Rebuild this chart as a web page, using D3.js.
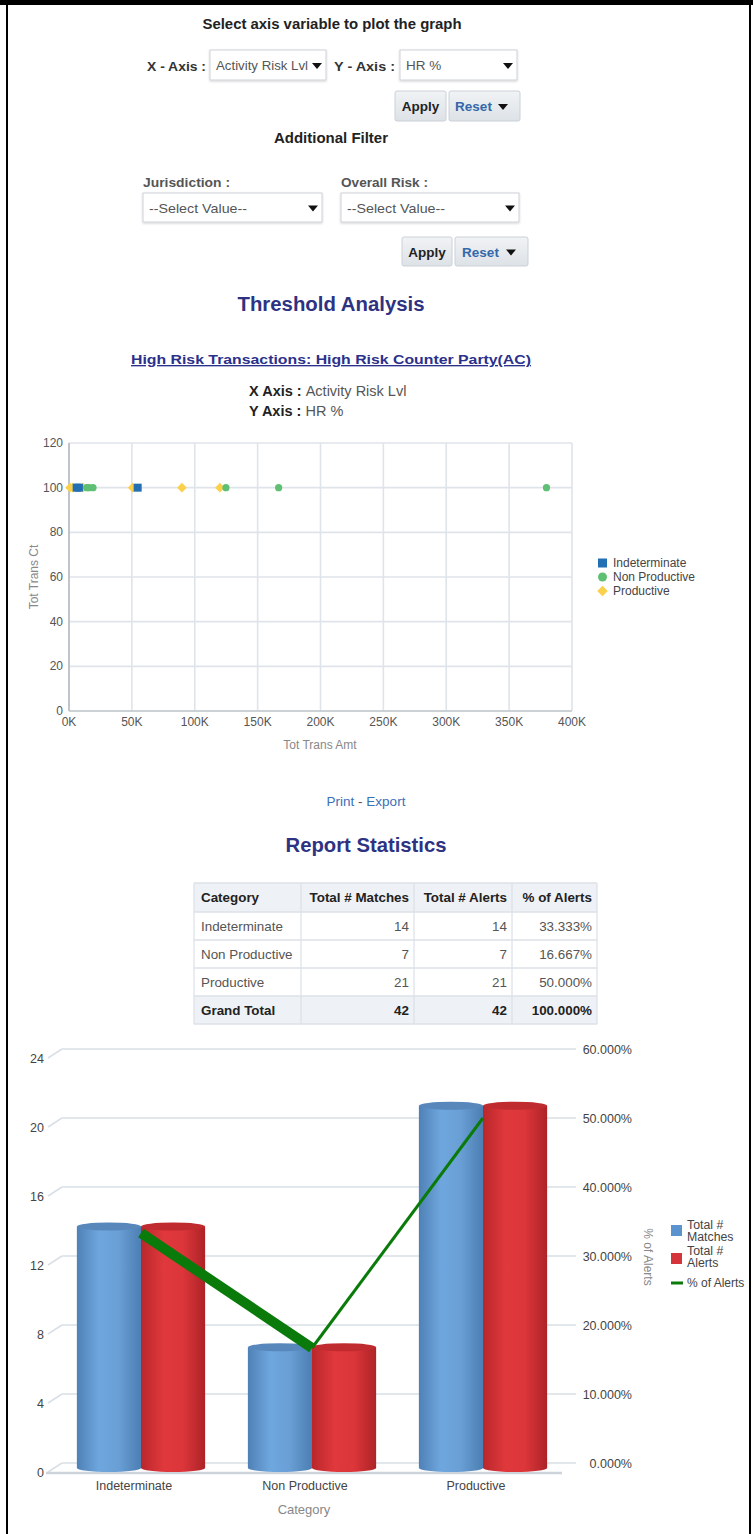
<!DOCTYPE html>
<html><head><meta charset="utf-8">
<script src="https://cdn.jsdelivr.net/npm/d3@7"></script>
<style>
html,body{margin:0;padding:0;background:#fff;}
svg{display:block;font-family:"Liberation Sans",Arial,sans-serif;}
</style></head><body>
<svg id="c" width="753" height="1534"></svg>
<script>
// ---------------- DATA ----------------
const scatterSeries = ["Indeterminate", "Non Productive", "Productive"];
const indeterminateAmtK = [6.1, 7.9, 54.6];
const indeterminateHR = [100, 100, 100];
const nonProductiveAmtK = [14.1, 15.9, 19.1, 124.8, 166.7, 379.7];
const nonProductiveHR = [100, 100, 100, 100, 100, 100];
const productiveAmtK = [0.8, 2.9, 11.1, 50.6, 89.8, 120.0];
const productiveHR = [100, 100, 100, 100, 100, 100];
const scatterXTicks = [0, 50, 100, 150, 200, 250, 300, 350, 400];
const scatterYTicks = [0, 20, 40, 60, 80, 100, 120];

const categories = ["Indeterminate", "Non Productive", "Productive"];
const totalMatches = [14, 7, 21];
const totalAlerts = [14, 7, 21];
const pctAlerts = [33.333, 16.667, 50.000];
const barYTicks = [0, 4, 8, 12, 16, 20, 24];
const pctTicks = [0, 10, 20, 30, 40, 50, 60];
const tableHeaders = ["Category", "Total # Matches", "Total # Alerts", "% of Alerts"];
const barSeries = ["Total # Matches", "Total # Alerts"];

// ---------------- HELPERS ----------------
const svg = d3.select("#c");
const defs = svg.append("defs");
function txt(x, y, s, o = {}) {
  const t = svg.append("text").attr("x", x).attr("y", y).text(s)
    .attr("font-size", o.size || 12)
    .attr("font-weight", o.bold ? "bold" : "normal")
    .attr("fill", o.fill || "#333")
    .attr("text-anchor", o.anchor || "start");
  if (o.decor) t.attr("text-decoration", o.decor);
  if (o.len) t.attr("textLength", o.len).attr("lengthAdjust", "spacingAndGlyphs");
  return t;
}
// frame
svg.append("rect").attr("x", 0).attr("y", 0).attr("width", 753).attr("height", 5).attr("fill", "#000");
svg.append("rect").attr("x", 6).attr("y", 0).attr("width", 2).attr("height", 1534).attr("fill", "#000");
svg.append("rect").attr("x", 749).attr("y", 0).attr("width", 2).attr("height", 1534).attr("fill", "#000");

const bg = defs.append("linearGradient").attr("id", "btn").attr("x1", 0).attr("y1", 0).attr("x2", 0).attr("y2", 1);
bg.append("stop").attr("offset", "0%").attr("stop-color", "#f1f3f5");
bg.append("stop").attr("offset", "100%").attr("stop-color", "#dde2e7");
const sh = defs.append("filter").attr("id", "sh").attr("x", "-10%").attr("y", "-10%").attr("width", "120%").attr("height", "130%");
sh.append("feDropShadow").attr("dx", 0).attr("dy", 1).attr("stdDeviation", 1).attr("flood-color", "#000").attr("flood-opacity", 0.18);

function arrowAt(ax, ay) {
  svg.append("path").attr("d", `M${ax - 5},${ay - 3}L${ax + 5},${ay - 3}L${ax},${ay + 3}Z`).attr("fill", "#111");
}
function selectBox(x, y, w, h, label, len) {
  svg.append("rect").attr("x", x).attr("y", y).attr("width", w).attr("height", h)
    .attr("fill", "#fff").attr("stroke", "#cdd2d8").attr("filter", "url(#sh)");
  txt(x + 6, y + h / 2 + 5, label, { size: 13.5, fill: "#555", len: len });
  arrowAt(x + w - 9, y + h / 2 + 1);
}
function button(x, y, w, h, label, color, arrow) {
  svg.append("rect").attr("x", x).attr("y", y).attr("width", w).attr("height", h).attr("rx", 2)
    .attr("fill", "url(#btn)").attr("stroke", "#cbd1d8");
  const cx = x + w / 2 - (arrow ? 11 : 0);
  txt(cx, y + h / 2 + 5, label, { size: 13.5, bold: true, fill: color, anchor: "middle" });
  if (arrow) arrowAt(x + w - 17, y + h / 2 + 1);
}

// ---------------- FORM ----------------
txt(332, 29, "Select axis variable to plot the graph", { size: 14.5, bold: true, fill: "#222", anchor: "middle", len: 259 });
txt(147, 71, "X - Axis :", { size: 13.5, bold: true, fill: "#333", len: 59 });
selectBox(210, 50, 116, 30, "Activity Risk Lvl", 92);
txt(334, 71, "Y - Axis :", { size: 13.5, bold: true, fill: "#333", len: 61 });
selectBox(400, 50, 117, 30, "HR %");
button(395, 91, 51, 30, "Apply", "#222", false);
button(449, 91, 71, 30, "Reset", "#3468aa", true);

txt(331, 143, "Additional Filter", { size: 14.5, bold: true, fill: "#222", anchor: "middle", len: 114 });
txt(143, 187, "Jurisdiction :", { size: 13.5, bold: true, fill: "#555", len: 87 });
txt(341, 187, "Overall Risk :", { size: 13.5, bold: true, fill: "#555", len: 87 });
selectBox(143, 193, 179, 29, "--Select Value--", 98);
selectBox(341, 193, 178, 29, "--Select Value--", 98);
button(402, 237, 50, 29, "Apply", "#222", false);
button(455, 237, 73, 29, "Reset", "#3468aa", true);

// ---------------- THRESHOLD ANALYSIS ----------------
txt(331, 311, "Threshold Analysis", { size: 20, bold: true, fill: "#2e3282", anchor: "middle", len: 187 });
txt(331, 364, "High Risk Transactions: High Risk Counter Party(AC)", { size: 13.5, bold: true, fill: "#2b308a", anchor: "middle", decor: "underline", len: 400 });
const xa = txt(249, 396, "", { size: 14.5 });
xa.append("tspan").attr("font-weight", "bold").attr("fill", "#222").text("X Axis : ");
xa.append("tspan").attr("fill", "#555").text("Activity Risk Lvl");
const ya = txt(249, 416, "", { size: 14.5 });
ya.append("tspan").attr("font-weight", "bold").attr("fill", "#222").text("Y Axis : ");
ya.append("tspan").attr("fill", "#555").text("HR %");

// scatter scales
const xS = d3.scaleLinear().domain([0, 400]).range([69, 572]);
const yS = d3.scaleLinear().domain([0, 120]).range([711, 443]);
const sg = svg.append("g");
sg.selectAll("line.vg").data(scatterXTicks).join("line")
  .attr("x1", d => xS(d)).attr("x2", d => xS(d)).attr("y1", yS(120)).attr("y2", yS(0))
  .attr("stroke", "#dfe4ea").attr("stroke-width", 1.6);
sg.selectAll("line.hg").data(scatterYTicks).join("line")
  .attr("x1", xS(0)).attr("x2", xS(400)).attr("y1", d => yS(d)).attr("y2", d => yS(d))
  .attr("stroke", "#dfe4ea").attr("stroke-width", 1.6);
sg.append("line").attr("x1", xS(0)).attr("x2", xS(0)).attr("y1", yS(120)).attr("y2", yS(0)).attr("stroke", "#b3b9c0").attr("stroke-width", 1.5);
sg.append("line").attr("x1", xS(0)).attr("x2", xS(400)).attr("y1", yS(0)).attr("y2", yS(0)).attr("stroke", "#c3c8ce").attr("stroke-width", 1.5);
sg.selectAll("text.yt").data(scatterYTicks).join("text")
  .attr("x", 63).attr("y", d => yS(d) + 4).attr("text-anchor", "end")
  .attr("font-size", 12).attr("fill", "#555").text(d => d);
sg.selectAll("text.xt").data(scatterXTicks).join("text")
  .attr("x", d => xS(d)).attr("y", 726).attr("text-anchor", "middle")
  .attr("font-size", 12).attr("fill", "#555").text(d => d + "K");
txt(320, 749, "Tot Trans Amt", { size: 12, fill: "#888", anchor: "middle" });
svg.append("text").attr("transform", "translate(38,577) rotate(-90)").attr("text-anchor", "middle")
  .attr("font-size", 12).attr("fill", "#888").text("Tot Trans Ct");

const colInd = "#236fb3", colNon = "#5fbf72", colProd = "#fbd04a";
const prodPts = productiveAmtK.map((v, i) => [v, productiveHR[i]]);
const nonPts = nonProductiveAmtK.map((v, i) => [v, nonProductiveHR[i]]);
const indPts = indeterminateAmtK.map((v, i) => [v, indeterminateHR[i]]);
const diamond = d3.symbol().type(d3.symbolDiamond2).size(60);
sg.selectAll("path.p").data(prodPts).join("path")
  .attr("transform", d => `translate(${xS(d[0])},${yS(d[1])})`).attr("d", diamond).attr("fill", colProd);
sg.selectAll("circle.n").data(nonPts).join("circle")
  .attr("cx", d => xS(d[0])).attr("cy", d => yS(d[1])).attr("r", 3.6).attr("fill", colNon);
sg.selectAll("rect.i").data(indPts).join("rect")
  .attr("x", d => xS(d[0]) - 4).attr("y", d => yS(d[1]) - 4).attr("width", 8).attr("height", 8).attr("fill", colInd);

// scatter legend
const legY = d3.scalePoint().domain(scatterSeries).range([563, 591]);
scatterSeries.forEach((s, i) => {
  const y = legY(s);
  if (i === 0) svg.append("rect").attr("x", 598).attr("y", y - 4.5).attr("width", 9).attr("height", 9).attr("fill", colInd);
  if (i === 1) svg.append("circle").attr("cx", 602.5).attr("cy", y).attr("r", 4.5).attr("fill", colNon);
  if (i === 2) svg.append("path").attr("transform", `translate(602.5,${y})`).attr("d", d3.symbol().type(d3.symbolDiamond2).size(70)).attr("fill", colProd);
  txt(613, y + 4, s, { size: 12, fill: "#444" });
});

// ---------------- REPORT STATISTICS ----------------
const pe = txt(366, 806, "", { size: 13.5, anchor: "middle" });
pe.append("tspan").attr("fill", "#3c6fb6").text("Print");
pe.append("tspan").attr("fill", "#555").text(" - ");
pe.append("tspan").attr("fill", "#3c6fb6").text("Export");
txt(366, 852, "Report Statistics", { size: 20.5, bold: true, fill: "#2e3282", anchor: "middle", len: 161 });

const colX = [194, 301, 414, 512, 597];
const rowY = [883, 912, 940, 968, 996, 1024];
const totM = d3.sum(totalMatches), totA = d3.sum(totalAlerts), totP = d3.sum(pctAlerts);
const rows = categories.map((c, i) => [c, totalMatches[i], totalAlerts[i], pctAlerts[i].toFixed(3) + "%"]);
rows.push(["Grand Total", totM, totA, totP.toFixed(3) + "%"]);
const tg = svg.append("g");
tg.append("rect").attr("x", colX[0]).attr("y", rowY[0]).attr("width", colX[4] - colX[0]).attr("height", rowY[1] - rowY[0]).attr("fill", "#eef1f5");
tg.append("rect").attr("x", colX[0]).attr("y", rowY[4]).attr("width", colX[4] - colX[0]).attr("height", rowY[5] - rowY[4]).attr("fill", "#eef1f5");
rowY.forEach(y => tg.append("line").attr("x1", colX[0]).attr("x2", colX[4]).attr("y1", y).attr("y2", y).attr("stroke", "#dde2e8").attr("stroke-width", 1.3));
colX.forEach(x => tg.append("line").attr("x1", x).attr("x2", x).attr("y1", rowY[0]).attr("y2", rowY[5]).attr("stroke", "#dde2e8").attr("stroke-width", 1.3));
tableHeaders.forEach((h, j) => {
  if (j === 0) txt(colX[0] + 7, rowY[0] + 19, h, { size: 13.4, bold: true, fill: "#222" });
  else txt(colX[j + 1] - 5, rowY[0] + 19, h, { size: 13.4, bold: true, fill: "#222", anchor: "end" });
});
rows.forEach((r, i) => {
  const last = i === rows.length - 1;
  const y = rowY[i + 1] + 18.5;
  r.forEach((v, j) => {
    if (j === 0) txt(colX[0] + 7, y, v, { size: 13.4, bold: last, fill: last ? "#222" : "#555" });
    else txt(colX[j + 1] - 5, y, v, { size: 13.4, bold: last, fill: last ? "#222" : "#555", anchor: "end" });
  });
});

// ---------------- BAR / LINE CHART ----------------
const yBack = d3.scaleLinear().domain([0, 24]).range([1463, 1049]);
const yFront = d3.scaleLinear().domain([0, 24]).range([1472, 1058]);
const yBar = d3.scaleLinear().domain([0, 24]).range([1468, 1054]);
const yPct = d3.scaleLinear().domain([0, 60]).range([1463, 1049]);
const x0 = d3.scaleBand().domain(categories).range([55.5, 568.5]).paddingInner(0.25).paddingOuter(0.125);
const x1 = d3.scaleBand().domain(barSeries).range([0, x0.bandwidth()]);
const bgc = svg.append("g");
barYTicks.forEach(t => {
  bgc.append("line").attr("x1", 62).attr("x2", 576).attr("y1", yBack(t)).attr("y2", yBack(t)).attr("stroke", "#d9dfe6").attr("stroke-width", 1.5);
  bgc.append("line").attr("x1", 48).attr("x2", 62).attr("y1", yFront(t)).attr("y2", yBack(t)).attr("stroke", "#d9dfe6").attr("stroke-width", 1.5);
  bgc.append("text").attr("x", 44).attr("y", yFront(t) + 4.5).attr("text-anchor", "end").attr("font-size", 12.5).attr("fill", "#444").text(t);
});
bgc.append("line").attr("x1", 46).attr("x2", 562).attr("y1", 1473).attr("y2", 1473).attr("stroke", "#cdd3da").attr("stroke-width", 2.5);
pctTicks.forEach(t => {
  bgc.append("text").attr("x", 632).attr("y", yPct(t) + 4.5).attr("text-anchor", "end").attr("font-size", 12.5).attr("fill", "#444").text(t.toFixed(3) + "%");
});
svg.append("text").attr("transform", "translate(644,1257) rotate(90)").attr("text-anchor", "middle")
  .attr("font-size", 12).attr("fill", "#888").text("% of Alerts");

function cylGrad(id, stops) {
  const g = defs.append("linearGradient").attr("id", id).attr("x1", 0).attr("y1", 0).attr("x2", 1).attr("y2", 0);
  stops.forEach(s => g.append("stop").attr("offset", s[0]).attr("stop-color", s[1]));
}
cylGrad("gBlue", [["0%", "#4f81b6"], ["35%", "#6ea7de"], ["65%", "#699fd5"], ["100%", "#4c7fb3"]]);
cylGrad("gRed", [["0%", "#b9272b"], ["35%", "#e0383c"], ["65%", "#dc363a"], ["100%", "#ad2327"]]);
const seriesVals = [totalMatches, totalAlerts];
const seriesFill = ["url(#gBlue)", "url(#gRed)"];
const seriesTop = ["#5887bc", "#c02b2f"];
const ry = 4;
categories.forEach((c, i) => {
  barSeries.forEach((s, k) => {
    const v = seriesVals[k][i];
    const x = x0(c) + x1(s), w = x1.bandwidth();
    const yt = yBar(v), yb = yBar(0);
    const cx = x + w / 2, rx = w / 2;
    svg.append("path")
      .attr("d", `M${x},${yt} L${x},${yb} A${rx},${ry} 0 0 0 ${x + w},${yb} L${x + w},${yt} Z`)
      .attr("fill", seriesFill[k]);
    svg.append("ellipse").attr("cx", cx).attr("cy", yt).attr("rx", rx).attr("ry", ry).attr("fill", seriesTop[k]);
  });
});
const linePts = categories.map((c, i) => [x0(c) + x0.bandwidth() / 2, yPct(pctAlerts[i])]);
const segW = [10, 3];
d3.pairs(linePts).forEach((p, i) => {
  svg.append("path").attr("d", d3.line()(p)).attr("stroke", "#0a7a0a").attr("stroke-width", segW[i]).attr("fill", "none");
});
categories.forEach(c => {
  txt(x0(c) + x0.bandwidth() / 2 - 7, 1490, c, { size: 12.5, fill: "#444", anchor: "middle" });
});
txt(304, 1514, "Category", { size: 13, fill: "#888", anchor: "middle" });

// legend
svg.append("rect").attr("x", 671).attr("y", 1225).attr("width", 11).attr("height", 11).attr("fill", "#5b93cf");
txt(687, 1229, "Total #", { size: 12.3, fill: "#444" });
txt(687, 1241, "Matches", { size: 12.3, fill: "#444" });
svg.append("rect").attr("x", 671).attr("y", 1253).attr("width", 11).attr("height", 11).attr("fill", "#d5343a");
txt(687, 1255, "Total #", { size: 12.3, fill: "#444" });
txt(687, 1267, "Alerts", { size: 12.3, fill: "#444" });
svg.append("line").attr("x1", 671).attr("x2", 683).attr("y1", 1283).attr("y2", 1283).attr("stroke", "#0a7a0a").attr("stroke-width", 3);
txt(687, 1287, "% of Alerts", { size: 12, fill: "#444" });
</script>
</body></html>
